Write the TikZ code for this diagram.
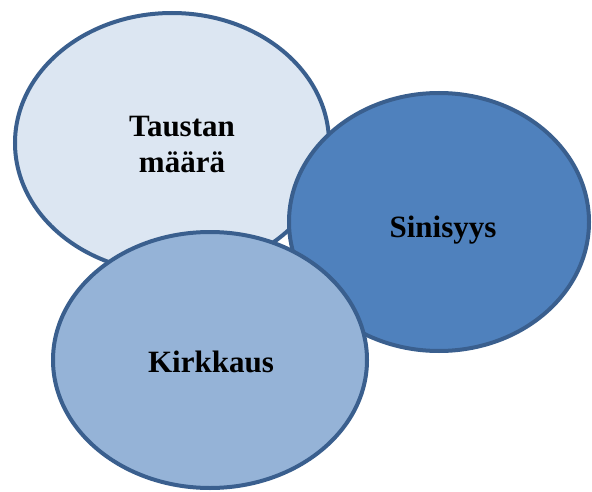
\documentclass[tikz,border=0pt]{standalone}
\usepackage{fontspec}
\setmainfont{Liberation Serif}
\usetikzlibrary{shapes.geometric}
\definecolor{rim}{HTML}{3A5F8E}
\definecolor{fillA}{HTML}{DCE6F2}
\definecolor{fillB}{HTML}{4F81BD}
\definecolor{fillC}{HTML}{95B3D7}
\tikzset{
  bubble/.style={ellipse, draw=rim, line width=4pt, inner sep=0pt, outer sep=0pt},
  lbl/.style={anchor=base, inner sep=0pt, font=\fontsize{31}{35}\selectfont\bfseries, text=black}
}
\begin{document}
\begin{tikzpicture}[x=1pt,y=-1pt]
\useasboundingbox (0,0) rectangle (592,492);
\node[bubble, fill=fillA, minimum width=314pt, minimum height=260pt] (e1) at (172,143) {};
\node[bubble, fill=fillB, minimum width=300pt, minimum height=258pt] (e2) at (439,222) {};
\node[bubble, fill=fillC, minimum width=314pt, minimum height=256pt] (e3) at (210,360) {};
\node[lbl] (t1) at (182,137) {Taustan};
\node[lbl] (t1b) at (182,172) {määrä};
\node[lbl] (t2) at (443,237) {Sinisyys};
\node[lbl] (t3) at (211,372) {Kirkkaus};
\end{tikzpicture}
\end{document}
